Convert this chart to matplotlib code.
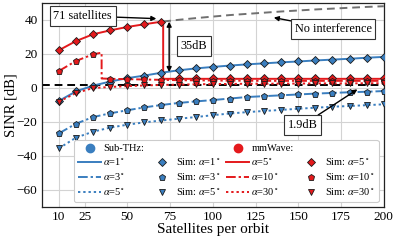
import matplotlib
matplotlib.use("Agg")
import matplotlib.pyplot as plt
from matplotlib.lines import Line2D

plt.rcParams['font.family'] = ['Liberation Serif', 'DejaVu Serif']
plt.rcParams['mathtext.fontset'] = 'stix'

# ---------------- data ----------------
sats = [10, 20, 30, 40, 50, 60, 70, 80, 90, 100, 110, 120, 130, 140, 150, 160, 170, 180, 190, 200]

thz_a1 = [-7.6, -2.0, 1.4, 3.8, 5.8, 7.3, 9.0, 10.4, 11.5, 12.4, 13.2, 13.9, 14.5, 15.1, 15.6, 16.2, 16.7, 17.2, 17.8, 18.3]
thz_a3 = [-26.7, -21.0, -17.1, -14.9, -13.1, -11.4, -10.0, -8.8, -7.9, -7.1, -6.2, -5.3, -4.8, -4.3, -3.8, -3.3, -2.9, -2.5, -2.2, -1.8]
thz_a5 = [-35.5, -29.2, -25.7, -23.3, -21.6, -20.2, -19.1, -18.1, -17.1, -16.0, -15.0, -14.2, -13.5, -12.9, -12.2, -11.6, -11.0, -10.6, -10.1, -9.6]

# mmWave analytic curves (with the jump where interference sets in)
mm_a5_x = [10, 20, 30, 40, 50, 60, 70, 71, 71, 80, 90, 100, 110, 120, 130, 140, 150, 160, 170, 180, 190, 200]
mm_a5_y = [22.2, 27.6, 31.6, 33.9, 35.9, 37.5, 39.0, 39.1, 5.4, 5.4, 5.4, 5.4, 5.4, 5.4, 5.4, 5.4, 5.4, 5.4, 5.4, 5.4, 5.4, 5.4]
mm_a10_x = [10, 20, 30, 35, 35, 40, 50, 60, 70, 80, 90, 100, 110, 120, 130, 140, 150, 160, 170, 180, 190, 200]
mm_a10_y = [10.0, 15.9, 19.8, 20.8, 5.6, 5.4, 5.2, 5.0, 4.8, 4.6, 4.5, 4.4, 4.3, 4.3, 4.2, 4.2, 4.2, 4.2, 4.2, 4.2, 4.2, 4.2]
mm_a30 = [-8.0, -3.0, 0.0, 0.6, 1.1, 1.5, 1.8, 2.0, 2.2, 2.3, 2.4, 2.5, 2.5, 2.6, 2.6, 2.7, 2.7, 2.7, 2.8, 2.8]

# mmWave simulation points
mm_a5_sim = [22.2, 27.6, 31.6, 33.9, 35.9, 37.5, 39.0, 5.6, 5.6, 5.6, 5.6, 5.6, 5.6, 5.6, 5.6, 5.6, 5.6, 5.6, 5.6, 5.6]
mm_a10_sim = [10.0, 15.9, 19.8, 5.4, 5.3, 5.1, 4.9, 4.6, 4.5, 4.4, 4.3, 4.3, 4.2, 4.2, 4.2, 4.2, 4.2, 4.2, 4.2, 4.2]
mm_a30_sim = mm_a30

# no-interference continuation
noint_x = [71, 80, 90, 100, 110, 120, 130, 140, 150, 160, 170, 180, 190, 200]
noint_y = [39.1, 40.1, 41.1, 42.0, 42.9, 43.6, 44.3, 45.0, 45.6, 46.2, 46.7, 47.2, 47.7, 48.1]

ref_level = 1.9

xticks = [10, 25, 50, 75, 100, 125, 150, 175, 200]
yticks = [-60, -40, -20, 0, 20, 40]

# ---------------- style ----------------
blue = '#3a7ebf'
red = '#e4191c'
lw = 1.4
ms = 5
mec = '#1a1a1a'
mew = 0.6

fig = plt.figure(figsize=(3.94, 2.40), dpi=100)
ax = fig.add_axes([0.106, 0.1375, 0.868, 0.85])

ax.set_xlim(0, 200)
ax.set_ylim(-70, 50)
ax.set_xticks(xticks)
ax.set_yticks(yticks)
ax.grid(True, color='#d3d3d3', lw=0.8, zorder=0)
ax.set_axisbelow(True)
for s in ax.spines.values():
    s.set_color('#222222')
    s.set_linewidth(0.9)
ax.tick_params(length=0, pad=3, labelsize=9.5)
ax.set_xlabel('Satellites per orbit', fontsize=11, labelpad=0)
ax.set_ylabel('SINR [dB]', fontsize=10.5)
ax.yaxis.set_label_coords(-0.072, 0.5)

# reference black dashed line
ax.axhline(ref_level, color='black', ls=(0, (4, 2.5)), lw=1.4, zorder=2)
# no interference
ax.plot(noint_x, noint_y, color='#707070', ls=(0, (4, 2.5)), lw=1.4, zorder=2)

# sub-THz lines
ax.plot(sats, thz_a1, color=blue, ls='-', lw=lw, zorder=3)
ax.plot(sats, thz_a3, color=blue, ls=(0, (5, 1.5, 1.2, 1.5)), lw=lw, zorder=3)
ax.plot(sats, thz_a5, color=blue, ls=(0, (1.2, 1.5)), lw=lw, zorder=3)
# mmWave lines
ax.plot(mm_a5_x, mm_a5_y, color=red, ls='-', lw=lw, zorder=4)
ax.plot(mm_a10_x, mm_a10_y, color=red, ls=(0, (5, 1.5, 1.2, 1.5)), lw=lw, zorder=4)
ax.plot(sats, mm_a30, color=red, ls=(0, (1.2, 1.5)), lw=lw, zorder=4)

# sim markers
mk = dict(ls='none', ms=ms, mec=mec, mew=mew, zorder=5)
ax.plot(sats, thz_a1, marker='D', mfc=blue, **dict(mk, ms=4.3))
ax.plot(sats, thz_a3, marker='p', mfc=blue, **mk)
ax.plot(sats, thz_a5, marker='v', mfc=blue, **mk)
ax.plot(sats, mm_a5_sim, marker='D', mfc=red, **dict(mk, ms=4.3))
ax.plot(sats, mm_a10_sim, marker='p', mfc=red, **mk)
ax.plot(sats, mm_a30_sim, marker='v', mfc=red, **mk)

# annotations
box = dict(boxstyle='square,pad=0.3', fc='white', ec='#333333', lw=0.8)
arr = dict(arrowstyle='-|>', color='black', lw=1.0, mutation_scale=7, shrinkA=0, shrinkB=0)
ax.annotate('71 satellites', xy=(67, 40.8), xytext=(24, 42.4), fontsize=8.8,
            ha='center', va='center', bbox=box, arrowprops=arr, zorder=6)
ax.annotate('', xy=(74.5, 39.0), xytext=(74.5, 9.4),
            arrowprops=dict(arrowstyle='<|-|>', color='black', lw=1.0, mutation_scale=7,
                            shrinkA=0, shrinkB=0), zorder=6)
ax.text(89, 24.7, '35dB', fontsize=8.8, ha='center', va='center', bbox=box, zorder=6)
ax.annotate('No interference', xy=(135.7, 41.4), xytext=(170.5, 34.7), fontsize=8.8,
            ha='center', va='center', bbox=box, arrowprops=arr, zorder=6)
ax.annotate('1.9dB', xy=(184.6, -0.8), xytext=(152.6, -21.8), fontsize=8.8,
            ha='center', va='center', bbox=box, arrowprops=arr, zorder=6)

# legend
blank = Line2D([], [], ls='none', marker='none')
h = [
    Line2D([], [], ls='none', marker='o', color=blue, ms=6),
    Line2D([], [], color=blue, ls='-', lw=lw),
    Line2D([], [], color=blue, ls=(0, (5, 1.5, 1.2, 1.5)), lw=lw),
    Line2D([], [], color=blue, ls=(0, (1.2, 1.5)), lw=lw),
    blank,
    Line2D([], [], ls='none', marker='D', mfc=blue, mec=mec, mew=mew, ms=4.3),
    Line2D([], [], ls='none', marker='p', mfc=blue, mec=mec, mew=mew, ms=ms),
    Line2D([], [], ls='none', marker='v', mfc=blue, mec=mec, mew=mew, ms=ms),
    Line2D([], [], ls='none', marker='o', color=red, ms=6),
    Line2D([], [], color=red, ls='-', lw=lw),
    Line2D([], [], color=red, ls=(0, (5, 1.5, 1.2, 1.5)), lw=lw),
    Line2D([], [], color=red, ls=(0, (1.2, 1.5)), lw=lw),
    blank,
    Line2D([], [], ls='none', marker='D', mfc=red, mec=mec, mew=mew, ms=4.3),
    Line2D([], [], ls='none', marker='p', mfc=red, mec=mec, mew=mew, ms=ms),
    Line2D([], [], ls='none', marker='v', mfc=red, mec=mec, mew=mew, ms=ms),
]
labels = [
    'Sub-THz:', r'$\alpha$=1$^\circ$', r'$\alpha$=3$^\circ$', r'$\alpha$=5$^\circ$',
    '', r'Sim: $\alpha$=1$^\circ$', r'Sim: $\alpha$=3$^\circ$', r'Sim: $\alpha$=5$^\circ$',
    'mmWave:', r'$\alpha$=5$^\circ$', r'$\alpha$=10$^\circ$', r'$\alpha$=30$^\circ$',
    '', r'Sim: $\alpha$=5$^\circ$', r'Sim: $\alpha$=10$^\circ$', r'Sim: $\alpha$=30$^\circ$',
]
leg = ax.legend(h, labels, ncol=4, loc='lower right', fontsize=7.5, handlelength=2.2,
                handletextpad=0.2, columnspacing=0.6, labelspacing=0.35,
                borderaxespad=0.5, frameon=True, fancybox=True, framealpha=1)
leg.get_frame().set_edgecolor('#cccccc')
leg.get_frame().set_linewidth(0.8)
leg.set_zorder(7)

fig.savefig('out.png', dpi=100)
